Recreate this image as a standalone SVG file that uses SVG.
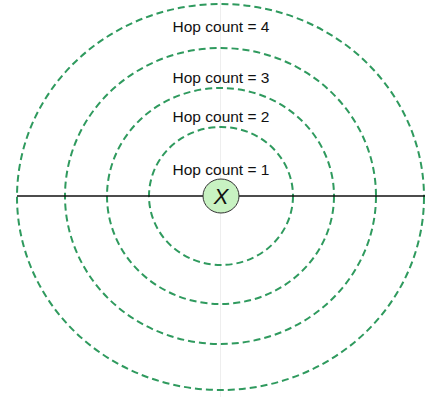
<svg xmlns="http://www.w3.org/2000/svg" width="425" height="397" viewBox="0 0 425 397">
  <style>
    .ring { fill: none; stroke: #2f9a5e; stroke-width: 2; stroke-dasharray: 7 4; }
    .lbl { font-family: "Liberation Sans", Arial, sans-serif; font-size: 15.5px; fill: #111; text-anchor: middle; }
    .axis { stroke: #111; stroke-width: 1.5; fill: none; }
    .guide { stroke: #eeeeee; stroke-width: 1; }
  </style>
  <rect width="425" height="397" fill="#ffffff"/>
  <line class="guide" x1="220.5" y1="0" x2="220.5" y2="397"/>
  <g id="ring4">
    <ellipse class="ring" cx="220.5" cy="197" rx="203.5" ry="193"/>
    <text class="lbl" x="221" y="32">Hop count = 4</text>
  </g>
  <g id="ring3">
    <ellipse class="ring" cx="220.5" cy="196" rx="155.5" ry="148"/>
    <text class="lbl" x="221" y="83">Hop count = 3</text>
  </g>
  <g id="ring2">
    <ellipse class="ring" cx="220.5" cy="196" rx="113.5" ry="108"/>
    <text class="lbl" x="221" y="122">Hop count = 2</text>
  </g>
  <g id="ring1">
    <ellipse class="ring" cx="221" cy="196" rx="72" ry="69"/>
    <text class="lbl" x="221" y="175">Hop count = 1</text>
  </g>
  <g id="connectors">
    <line class="axis" x1="17" y1="196" x2="203" y2="196"/>
    <line class="axis" x1="239" y1="196" x2="425" y2="196"/>
  </g>
  <g id="nodeX">
    <ellipse cx="221" cy="196" rx="18" ry="17" fill="#c8f2c2" stroke="#333" stroke-width="1"/>
    <text x="221" y="204" font-family="Liberation Sans, Arial, sans-serif" font-size="22" font-style="italic" text-anchor="middle" fill="#111">X</text>
  </g>
</svg>
